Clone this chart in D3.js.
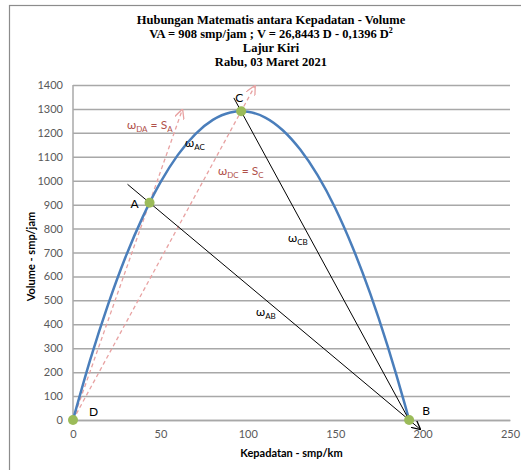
<!DOCTYPE html>
<html>
<head>
<meta charset="utf-8">
<script src="https://cdn.jsdelivr.net/npm/d3@7"></script>
<style>
  body { margin: 0; background: #fff; }
  svg { display: block; }
</style>
</head>
<body>
<div id="chart"></div>
<script>
// curve V = 26,8443 D - 0,1396 D^2
const curveD = [0, 10, 20, 30, 40, 50, 60, 70, 80, 90, 96.2, 100, 110, 120, 130, 140, 150, 160, 170, 180, 190, 192.3];
const curveV = [0, 255, 481, 680, 850, 993, 1108, 1195, 1254, 1285, 1290, 1288, 1264, 1211, 1130, 1022, 886, 721, 529, 309, 61, 0];

const pointNames = ["D", "A", "C", "B"];
const pointD = [0, 43.8, 96.2, 192.3];
const pointV = [0, 908, 1290, 0];

// tangent / chord lines
const lineAB_D = [31.2, 198.5], lineAB_V = [985, -38];
const lineCB_D = [92, 192.3], lineCB_V = [1346, 0];
const lineDA_D = [0, 62.5], lineDA_V = [0, 1296];
const lineDC_D = [0, 104], lineDC_V = [0, 1395];

const xTicks = [0, 50, 100, 150, 200, 250];
const yTicks = [0, 100, 200, 300, 400, 500, 600, 700, 800, 900, 1000, 1100, 1200, 1300, 1400];

const titleLines = [
  "Hubungan Matematis antara Kepadatan - Volume",
  "VA = 908 smp/jam ; V = 26,8443 D - 0,1396 D",
  "Lajur Kiri",
  "Rabu, 03 Maret 2021"
];

const width = 521, height = 470;
const margin = { top: 85, right: 11, bottom: 50, left: 73 };

const svg = d3.select("#chart").append("svg")
  .attr("width", width)
  .attr("height", height);

// frame (cut off on the right and bottom)
svg.append("rect")
  .attr("x", 9.5).attr("y", 5.5)
  .attr("width", 700).attr("height", 700)
  .attr("fill", "none")
  .attr("stroke", "#8c8c8c")
  .attr("stroke-width", 1.2);

const x = d3.scaleLinear().domain([0, 250]).range([margin.left, width - margin.right]);
const y = d3.scaleLinear().domain([0, 1400]).range([height - margin.bottom, margin.top]);

const defs = svg.append("defs");
defs.append("marker")
  .attr("id", "arrBlack")
  .attr("viewBox", "0 0 10 10")
  .attr("refX", 9).attr("refY", 5)
  .attr("markerWidth", 9).attr("markerHeight", 9)
  .attr("markerUnits", "userSpaceOnUse")
  .attr("orient", "auto")
  .append("path")
  .attr("d", "M0,0 L10,5 L0,10")
  .attr("fill", "none")
  .attr("stroke", "#000")
  .attr("stroke-width", 1.4);
defs.append("marker")
  .attr("id", "arrPink")
  .attr("viewBox", "0 0 10 10")
  .attr("refX", 9).attr("refY", 5)
  .attr("markerWidth", 10).attr("markerHeight", 10)
  .attr("markerUnits", "userSpaceOnUse")
  .attr("orient", "auto")
  .append("path")
  .attr("d", "M0,0 L10,5 L0,10")
  .attr("fill", "none")
  .attr("stroke", "#e8a2a2")
  .attr("stroke-width", 1.3);

// title
const title = svg.append("text")
  .attr("text-anchor", "middle")
  .attr("font-family", "'Liberation Serif', 'Times New Roman', serif")
  .attr("font-weight", "bold")
  .attr("font-size", 12.5)
  .attr("fill", "#000");
titleLines.forEach((t, i) => {
  title.append("tspan")
    .attr("x", 271)
    .attr("y", 24 + i * 14)
    .text(t);
  if (i === 1) {
    title.append("tspan").attr("dy", -5).attr("font-size", 8).text("2");
  }
});

// gridlines
const g = svg.append("g");
g.append("g")
  .attr("class", "grid")
  .attr("transform", "translate(" + margin.left + ",0)")
  .call(d3.axisLeft(y).tickValues(yTicks).tickSize(-(width - margin.right - margin.left)).tickFormat(""))
  .call(s => s.select(".domain").remove())
  .call(s => s.selectAll("line").attr("stroke", "#a8a8a8").attr("stroke-width", 1.5));

// y axis line
g.append("line")
  .attr("x1", x(0)).attr("x2", x(0))
  .attr("y1", y(0)).attr("y2", y(1400))
  .attr("stroke", "#a8a8a8").attr("stroke-width", 1.5);

// tick labels
const yAxis = g.append("g")
  .attr("transform", "translate(" + margin.left + ",0)")
  .call(d3.axisLeft(y).tickValues(yTicks).tickSize(0).tickPadding(10).tickFormat(d3.format("d")));
yAxis.select(".domain").remove();
yAxis.selectAll("text")
  .attr("font-family", "Lato, 'Open Sans', sans-serif")
  .attr("font-size", 11)
  .attr("fill", "#595959");

const xAxis = g.append("g")
  .attr("transform", "translate(0," + y(0) + ")")
  .call(d3.axisBottom(x).tickValues(xTicks).tickSize(0).tickPadding(10).tickFormat(d3.format("d")));
xAxis.select(".domain").attr("stroke", "#a8a8a8").attr("stroke-width", 1.5);
xAxis.selectAll("text")
  .attr("font-family", "Lato, 'Open Sans', sans-serif")
  .attr("font-size", 11)
  .attr("fill", "#595959");

// axis titles
svg.append("text")
  .attr("x", (x(0) + x(250)) / 2)
  .attr("y", 457)
  .attr("text-anchor", "middle")
  .attr("font-family", "Lato, 'Open Sans', sans-serif")
  .attr("font-weight", "bold")
  .attr("font-size", 11)
  .attr("fill", "#000")
  .text("Kepadatan - smp/km");
svg.append("text")
  .attr("transform", "translate(35," + ((y(0) + y(1400)) / 2 + 4) + ") rotate(-90)")
  .attr("text-anchor", "middle")
  .attr("font-family", "Lato, 'Open Sans', sans-serif")
  .attr("font-weight", "bold")
  .attr("font-size", 11)
  .attr("fill", "#000")
  .text("Volume - smp/jam");

// dashed pink arrows
[[lineDA_D, lineDA_V], [lineDC_D, lineDC_V]].forEach(([dd, vv]) => {
  g.append("line")
    .attr("x1", x(dd[0])).attr("y1", y(vv[0]))
    .attr("x2", x(dd[1])).attr("y2", y(vv[1]))
    .attr("stroke", "#e8a2a2")
    .attr("stroke-width", 1.3)
    .attr("stroke-dasharray", "4,3")
    .attr("marker-end", "url(#arrPink)");
});

// parabola
const curveData = curveD.map((d, i) => [d, curveV[i]]);
g.append("path")
  .datum(curveData)
  .attr("fill", "none")
  .attr("stroke", "#4a7ebb")
  .attr("stroke-width", 2.5)
  .attr("d", d3.line().x(d => x(d[0])).y(d => y(d[1])).curve(d3.curveMonotoneX));

// black lines
g.append("line")
  .attr("x1", x(lineAB_D[0])).attr("y1", y(lineAB_V[0]))
  .attr("x2", x(lineAB_D[1])).attr("y2", y(lineAB_V[1]))
  .attr("stroke", "#000").attr("stroke-width", 1)
  .attr("marker-end", "url(#arrBlack)");
g.append("line")
  .attr("x1", x(lineCB_D[0])).attr("y1", y(lineCB_V[0]))
  .attr("x2", x(lineCB_D[1])).attr("y2", y(lineCB_V[1]))
  .attr("stroke", "#000").attr("stroke-width", 1);

// points
g.selectAll(".pt")
  .data(pointD)
  .enter().append("circle")
  .attr("class", "pt")
  .attr("cx", d => x(d))
  .attr("cy", (d, i) => y(pointV[i]))
  .attr("r", 5)
  .attr("fill", "#9bbb59");

// point labels
const labelOffset = { D: [16, -4], A: [-19, 5], C: [-6, -9], B: [13, -5] };
pointNames.forEach((n, i) => {
  g.append("text")
    .attr("x", x(pointD[i]) + labelOffset[n][0])
    .attr("y", y(pointV[i]) + labelOffset[n][1])
    .attr("font-family", "Lato, 'Open Sans', sans-serif")
    .attr("font-size", 12)
    .attr("fill", "#000")
    .text(n);
});

// omega labels
function omega(px, py, sub, color, eqSub) {
  const t = g.append("text")
    .attr("x", px).attr("y", py)
    .attr("font-family", "Lato, 'Open Sans', sans-serif")
    .attr("font-size", 12)
    .attr("fill", color);
  t.append("tspan").text("ω");
  t.append("tspan").attr("dy", 3).attr("font-size", 8).text(sub);
  if (eqSub) {
    t.append("tspan").attr("dy", -3).text(" = S");
    t.append("tspan").attr("dy", 3).attr("font-size", 8).text(eqSub);
  }
}
omega(127, 129, "DA", "#b0504a", "A");
omega(185, 147, "AC", "#000");
omega(218, 175, "DC", "#b0504a", "C");
omega(288, 242, "CB", "#000");
omega(256, 316, "AB", "#000");
</script>
</body>
</html>
